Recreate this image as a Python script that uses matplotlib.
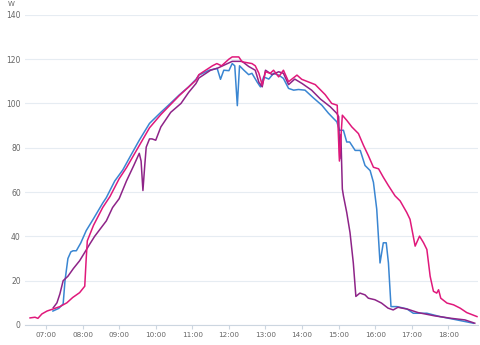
import matplotlib
matplotlib.use("Agg")
import matplotlib.pyplot as plt
import numpy as np

# hours (decimal) and watts
blue_t = [7.19, 7.35, 7.47, 7.52, 7.6, 7.68, 7.74, 7.83, 7.95, 8.1, 8.3, 8.55, 8.65, 8.88,
          9.1, 9.3, 9.55, 9.83, 10.14, 10.4, 10.64, 10.9, 11.1, 11.18, 11.46, 11.68, 11.77,
          11.86, 12.0, 12.09, 12.16, 12.23, 12.29, 12.41, 12.54, 12.63, 12.77, 12.86, 12.95,
          13.09, 13.22, 13.36, 13.49, 13.63, 13.77, 13.9, 14.08, 14.31, 14.54, 14.72, 14.86,
          14.95, 15.02, 15.13, 15.22, 15.3, 15.45, 15.59, 15.72, 15.86, 15.95, 16.04, 16.13,
          16.22, 16.3, 16.36, 16.43, 16.59, 16.86, 17.04, 17.41, 17.77, 18.14, 18.68]
blue_w = [6.3, 7.5, 9.5, 20, 30, 33, 33.5, 33.5, 37, 42.6, 48, 55, 57.5, 65,
          70, 76, 83.4, 91, 96, 100, 103.8, 107.5, 110.9, 112.8, 115, 115.8, 110.9,
          115, 114.8, 118, 117, 99, 117, 115, 113, 113.6, 109.7, 107.5, 112,
          111, 113.6, 112.8, 111.3, 106.8, 106, 106.3, 106, 102.5, 99.2, 95.6, 93.2,
          91.7, 87.9, 87.9, 82.6, 82.6, 78.8, 78.8, 72, 69.7, 64.4, 52.3, 28,
          37.1, 37.1, 28, 8.3, 8.3, 7.3, 5.3, 5.3, 3.8, 2.6, 0.8]

purple_t = [7.2, 7.3, 7.38, 7.47, 7.6, 7.75, 7.92, 8.05, 8.2, 8.33, 8.65, 8.82, 9.0, 9.2,
            9.4, 9.55, 9.6, 9.65, 9.7, 9.74, 9.83, 9.9, 10.0, 10.14, 10.41, 10.69, 10.9,
            11.1, 11.18, 11.5, 11.7, 12.09, 12.36, 12.54, 12.72, 12.82, 12.91, 13.0, 13.18,
            13.36, 13.49, 13.63, 13.8, 14.0, 14.26, 14.5, 14.77, 14.95, 15.0, 15.03, 15.06,
            15.1, 15.13, 15.22, 15.31, 15.4, 15.47, 15.58, 15.72, 15.81, 15.99, 16.17, 16.35,
            16.49, 16.62, 16.89, 17.17, 17.63, 18.08, 18.45, 18.72]
purple_w = [7.8, 10, 14, 20, 22, 25.5, 29, 32.5, 36.6, 40, 47, 53, 57, 65,
            72, 77.5, 74, 60.7, 72, 80.3, 84, 84, 83.4, 89.4, 96, 100, 105,
            109, 111.5, 115, 116, 119, 119, 116.7, 115, 109.5, 107.5, 115, 113,
            114.3, 113.6, 108.5, 111, 109, 106, 102, 98.5, 95.5, 94, 75, 86,
            61.4, 58.3, 50.8, 41.7, 28, 12.9, 14.4, 13.6, 12.1, 11.4, 9.9, 7.6,
            6.8, 8, 7.1, 5.6, 4.1, 3, 2.3, 0.8]

pink_t = [6.565, 6.7, 6.78, 6.89, 7.03, 7.19, 7.38, 7.57, 7.73, 7.92, 8.06, 8.1, 8.13, 8.3,
          8.55, 8.75, 9.0, 9.2, 9.55, 9.83, 10.14, 10.64, 11.1, 11.18, 11.55, 11.67, 11.8,
          12.0, 12.09, 12.27, 12.36, 12.63, 12.72, 12.82, 12.91, 13.0, 13.13, 13.22, 13.36,
          13.49, 13.63, 13.86, 13.99, 14.36, 14.63, 14.81, 14.96, 15.02, 15.1, 15.22, 15.36,
          15.54, 15.68, 15.81, 15.95, 16.09, 16.22, 16.36, 16.54, 16.68, 16.86, 16.95, 17.09,
          17.21, 17.32, 17.41, 17.5, 17.59, 17.68, 17.73, 17.79, 17.96, 18.14, 18.32, 18.5,
          18.78]
pink_w = [3.2, 3.5, 3.0, 5, 6.3, 7.2, 8.3, 10, 12.4, 14.6, 17.5, 30, 38, 45,
          53, 58, 66, 71, 81, 89, 95, 103.5, 110.5, 113, 117, 118, 117,
          120, 121, 121, 118.8, 118, 117, 113.6, 108.3, 114.3, 113.6, 115, 112,
          115, 109.8, 112.8, 110.9, 108.5, 104, 100, 99.2, 74, 94.7, 92.4, 89.4,
          86.4, 81, 76.5, 71.2, 70.5, 66.7, 62.9, 58.3, 56, 50.8, 47.7, 35.6,
          40.1, 37.1, 34.1, 22, 15.2, 14.4, 15.9, 12.1, 9.9, 9.1, 7.6, 5.6,
          3.8]

hours = list(range(7, 19))
hour_labels = [f"{h:02d}:00" for h in hours]
y_ticks = [0, 20, 40, 60, 80, 100, 120, 140]

fig = plt.figure(figsize=(4.8, 3.45), dpi=100)
ax = fig.add_axes([0.052, 0.058, 0.944, 0.899])

ax.plot(blue_t, blue_w, color="#3a86d2", lw=1.1, solid_joinstyle="round")
ax.plot(purple_t, purple_w, color="#8e2488", lw=1.1, solid_joinstyle="round")
ax.plot(pink_t, pink_w, color="#e0197b", lw=1.1, solid_joinstyle="round")

ax.set_xlim(6.426, 18.81)
ax.set_ylim(0, 140)
ax.set_xticks(hours)
ax.set_xticklabels(hour_labels)
ax.set_yticks(y_ticks)
ax.grid(axis="y", color="#e6ecf2", lw=0.8)
ax.set_axisbelow(True)

for side in ["top", "right", "left"]:
    ax.spines[side].set_visible(False)
ax.spines["bottom"].set_color("#ccd6e0")
ax.spines["bottom"].set_linewidth(0.8)
ax.tick_params(axis="x", colors="#ccd6e0", length=3, width=0.8, labelsize=5.2,
               labelcolor="#666666", pad=2)
ax.tick_params(axis="y", length=0, labelsize=5.5, labelcolor="#666666", pad=3)

fig.text(0.017, 0.996, "W", fontsize=5, color="#666666", va="top", ha="left")

fig.savefig("out.png", dpi=100)
